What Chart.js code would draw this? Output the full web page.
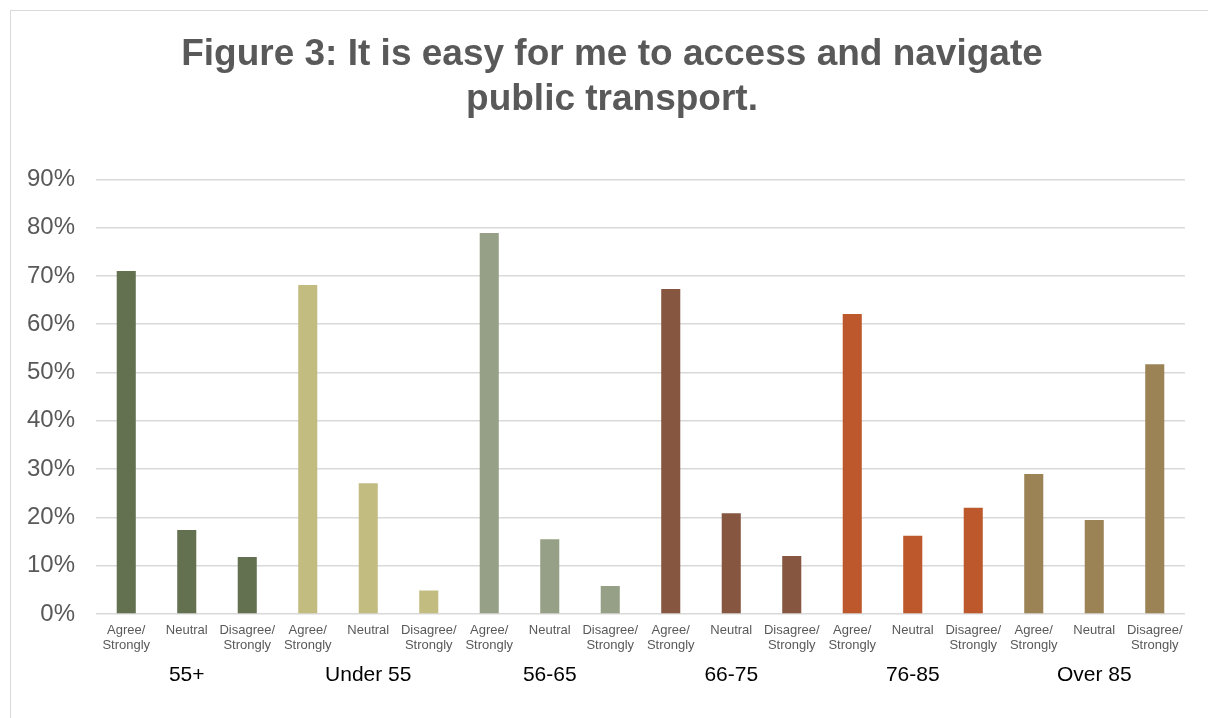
<!DOCTYPE html>
<html>
<head>
<meta charset="utf-8">
<script src="https://cdn.jsdelivr.net/npm/chart.js@4"></script>
<style>
    html, body { margin: 0; padding: 0; background: #fff; overflow: hidden; }
    #frame {
        position: absolute; left: 10px; top: 10px;
        width: 1230px; height: 740px;
        border: 1px solid #d9d9d9;
    }
    #wrap { position: absolute; left: 0; top: 0; width: 1208px; height: 718px; }
</style>
</head>
<body>
<div id="frame"></div>
<div id="wrap"><canvas id="accessChart"></canvas></div>
<script>
// Age groups and the three answer buckets shown under each group
const groups = ['55+', 'Under 55', '56-65', '66-75', '76-85', 'Over 85'];
const answers = [['Agree/', 'Strongly'], 'Neutral', ['Disagree/', 'Strongly']];
const groupColors = ['#637150', '#c3bc80', '#96a086', '#865640', '#bc582c', '#9c8356'];

// Percent of respondents per group: agree, neutral, disagree
const over55 = [71.0, 17.4, 11.8];
const under55 = [68.1, 27.1, 4.9];
const age56to65 = [78.9, 15.5, 5.8];
const age66to75 = [67.3, 20.9, 12.0];
const age76to85 = [62.1, 16.2, 22.0];
const over85 = [29.0, 19.5, 51.7];

const yTicks = [0, 10, 20, 30, 40, 50, 60, 70, 80, 90];

const allValues = [over55, under55, age56to65, age66to75, age76to85, over85];
const labels = [];
const values = [];
const colors = [];
allValues.forEach((g, gi) => {
    g.forEach((v, ai) => {
        labels.push(answers[ai]);
        values.push(v);
        colors.push(groupColors[gi]);
    });
});

// Group names drawn under the answer labels, centred on each group's middle bar.
// Also nudges the title box so the title sits centred over the frame, not the axis.
const groupLabels = {
    id: 'groupLabels',
    afterLayout(chart) {
        if (chart.titleBlock) chart.titleBlock.left = 39;
    },
    afterDraw(chart) {
        const ctx = chart.ctx;
        const x = chart.scales.x;
        ctx.save();
        ctx.font = '21px "Liberation Sans", Arial, sans-serif';
        ctx.fillStyle = '#000';
        ctx.textAlign = 'center';
        ctx.textBaseline = 'middle';
        groups.forEach((name, i) => {
            ctx.fillText(name, x.getPixelForValue(i * 3 + 1), x.bottom + 21);
        });
        ctx.restore();
    }
};

const ctx = document.getElementById('accessChart').getContext('2d');
new Chart(ctx, {
    type: 'bar',
    data: {
        labels: labels,
        datasets: [{
            data: values,
            backgroundColor: colors,
            borderWidth: 0,
            barPercentage: 0.315,
            categoryPercentage: 1
        }]
    },
    options: {
        responsive: true,
        maintainAspectRatio: false,
        animation: false,
        layout: {
            padding: { top: 32, left: 8, right: 23, bottom: 64 }
        },
        plugins: {
            legend: { display: false },
            tooltip: { enabled: false },
            title: {
                display: true,
                text: ['Figure 3: It is easy for me to access and navigate', 'public transport.'],
                color: '#595959',
                font: { family: '"Liberation Sans", Arial, sans-serif', size: 37, weight: 'bold', lineHeight: 1.22 },
                padding: { top: 0, bottom: 57 }
            }
        },
        scales: {
            x: {
                grid: { display: false },
                border: { display: false },
                ticks: {
                    color: '#595959',
                    font: { family: '"Liberation Sans", Arial, sans-serif', size: 13, lineHeight: 1.15 },
                    padding: 1,
                    maxRotation: 0,
                    autoSkip: false
                }
            },
            y: {
                min: 0,
                max: 90,
                afterBuildTicks(scale) {
                    scale.ticks = yTicks.map(v => ({ value: v }));
                },
                afterFit(scale) {
                    scale.width = 88;
                },
                grid: { color: '#d9d9d9', lineWidth: 1.5, drawTicks: false },
                border: { display: false },
                ticks: {
                    color: '#595959',
                    font: { family: '"Liberation Sans", Arial, sans-serif', size: 24 },
                    padding: 21,
                    callback: v => v + '%'
                }
            }
        }
    },
    plugins: [groupLabels]
});
</script>
</body>
</html>
